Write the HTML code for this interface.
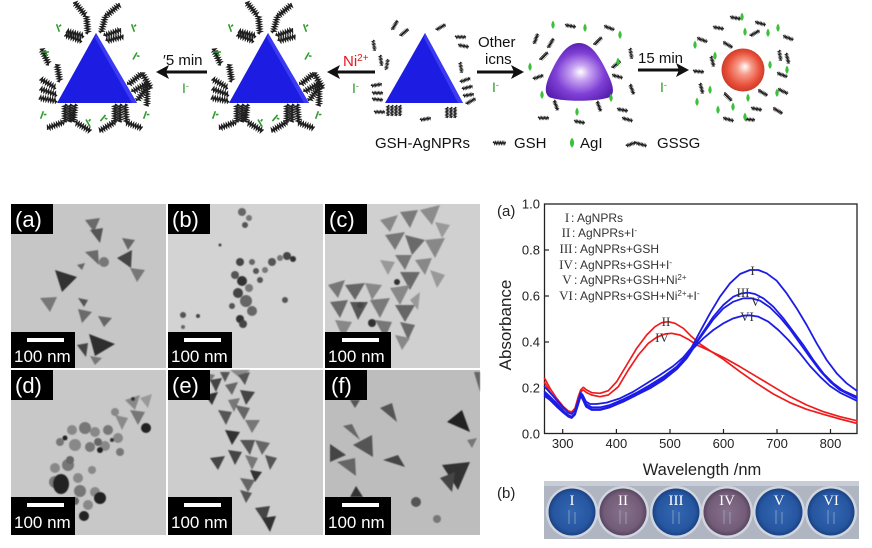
<!DOCTYPE html>
<html><head><meta charset="utf-8"><style>
html,body{margin:0;padding:0;background:#fff;}
svg{display:block;}
text{font-family:"Liberation Sans",Arial,sans-serif;}
.serif{font-family:"Liberation Serif","Times New Roman",serif;}
</style></head><body>
<svg width="872" height="548" viewBox="0 0 872 548" xmlns="http://www.w3.org/2000/svg">
<defs>
  <path id="zz" d="M0,0 l1.2,-1.8 l1.2,3.6 l1.2,-3.6 l1.2,3.6 l1.2,-3.6 l1.2,3.6 l1.2,-3.6 l1.2,3.6 l1.2,-3.6 l1.2,3.6 l1.2,-3.6 l1.2,3.6 l1.2,-3.6 l1.2,3.6 l1.2,-3.6" fill="none" stroke="#1e1e1e" stroke-width="1.5"/>
  <path id="gi" d="M0,-4 L0,4 M1.5,-1 L4,-2" fill="none" stroke="#2f9a2f" stroke-width="1.6"/>
  <path id="dr" d="M0,-4.5 Q3.5,0 0,4 Q-3.5,0 0,-4.5Z" fill="#3cc03c"/>
  <radialGradient id="gp" cx="0.5" cy="0.55" r="0.6" fx="0.52" fy="0.5">
    <stop offset="0" stop-color="#ffffff"/><stop offset="0.22" stop-color="#c9a6f2"/>
    <stop offset="0.6" stop-color="#8040d6"/><stop offset="1" stop-color="#5018a8"/>
  </radialGradient>
  <radialGradient id="gr" cx="0.5" cy="0.5" r="0.55" fx="0.55" fy="0.42">
    <stop offset="0" stop-color="#ffffff"/><stop offset="0.3" stop-color="#f79b8a"/>
    <stop offset="0.7" stop-color="#e8503a"/><stop offset="1" stop-color="#c23422"/>
  </radialGradient>
  <radialGradient id="wb" cx="0.5" cy="0.5" r="0.5">
    <stop offset="0" stop-color="#3466b2"/><stop offset="0.8" stop-color="#2656a0"/><stop offset="1" stop-color="#1a4284"/>
  </radialGradient>
  <radialGradient id="wp" cx="0.5" cy="0.5" r="0.5">
    <stop offset="0" stop-color="#86708c"/><stop offset="0.8" stop-color="#725c78"/><stop offset="1" stop-color="#5a4662"/>
  </radialGradient>
  <filter id="bl"><feGaussianBlur stdDeviation="0.6"/></filter>
  <g id="tri1">
    <polygon points="96,33 57,103 137,103" fill="#1c1ce2"/>
    <polygon points="96,33 137,103 132,103 95,38" fill="#3a3af2"/>
    <g>
      <use href="#zz" transform="translate(88,34) rotate(-95)"/>
      <use href="#zz" transform="translate(84,36) rotate(-165)"/>
      <use href="#zz" transform="translate(82,41) rotate(-160)"/>
      <use href="#zz" transform="translate(101,33) rotate(-75)"/>
      <use href="#zz" transform="translate(104,36) rotate(-20)"/>
      <use href="#zz" transform="translate(106,41) rotate(-15)"/>
      <use href="#zz" transform="translate(86,16) rotate(-130)"/>
      <use href="#zz" transform="translate(106,16) rotate(-40)"/>
      <use href="#zz" transform="translate(60,82) rotate(-100)"/>
      <use href="#zz" transform="translate(56,88) rotate(-150)"/>
      <use href="#zz" transform="translate(57,95) rotate(-160)"/>
      <use href="#zz" transform="translate(57,101) rotate(-170)"/>
      <use href="#zz" transform="translate(49,65) rotate(-115)"/>
      <use href="#zz" transform="translate(128,85) rotate(-40)"/>
      <use href="#zz" transform="translate(132,92) rotate(-30)"/>
      <use href="#zz" transform="translate(137,101) rotate(-55)"/>
      <use href="#zz" transform="translate(142,73) rotate(60)"/>
      <use href="#zz" transform="translate(147,88) rotate(90)"/>
      <use href="#zz" transform="translate(65,104) rotate(90)"/>
      <use href="#zz" transform="translate(70,104) rotate(90)"/>
      <use href="#zz" transform="translate(75,104) rotate(95)"/>
      <use href="#zz" transform="translate(115,104) rotate(90)"/>
      <use href="#zz" transform="translate(120,104) rotate(90)"/>
      <use href="#zz" transform="translate(125,104) rotate(85)"/>
      <use href="#zz" transform="translate(64,122) rotate(160)"/>
      <use href="#zz" transform="translate(75,122) rotate(30)"/>
      <use href="#zz" transform="translate(125,122) rotate(20)"/>
      <use href="#zz" transform="translate(115,122) rotate(150)"/>
    </g>
    <use href="#gi" transform="translate(58,28) rotate(-20)"/>
    <use href="#gi" transform="translate(133,28) rotate(-20)"/>
    <use href="#gi" transform="translate(45,52) rotate(90)"/>
    <use href="#gi" transform="translate(135,56) rotate(30)"/>
    <use href="#gi" transform="translate(42,115) rotate(20)"/>
    <use href="#gi" transform="translate(88,123) rotate(-30)"/>
    <use href="#gi" transform="translate(103,118) rotate(40)"/>
    <use href="#gi" transform="translate(145,115) rotate(20)"/>
  </g>
</defs>

<!-- ===== Scheme ===== -->
<use href="#tri1"/>
<use href="#tri1" transform="translate(172,0)"/>

<!-- triangle 3 -->
<polygon points="425,33 385,103 463,103" fill="#1c1ce2"/>
<polygon points="425,33 463,103 458,103 424,38" fill="#3a3af2"/>
<g>
  <use href="#zz" transform="translate(373,40) rotate(80) scale(0.6)"/>
  <use href="#zz" transform="translate(380,55) rotate(80) scale(0.6)"/>
  <use href="#zz" transform="translate(392,30) rotate(-60) scale(0.6)"/>
  <use href="#zz" transform="translate(400,36) rotate(-40) scale(0.6)"/>
  <use href="#zz" transform="translate(436,30) rotate(-30) scale(0.6)"/>
  <use href="#zz" transform="translate(455,37) rotate(0) scale(0.6)"/>
  <use href="#zz" transform="translate(458,45) rotate(10) scale(0.6)"/>
  <use href="#zz" transform="translate(460,62) rotate(80) scale(0.6)"/>
  <use href="#zz" transform="translate(460,82) rotate(-20) scale(0.6)"/>
  <use href="#zz" transform="translate(462,89) rotate(-15) scale(0.6)"/>
  <use href="#zz" transform="translate(463,96) rotate(-10) scale(0.6)"/>
  <use href="#zz" transform="translate(466,104) rotate(-30) scale(0.6)"/>
  <use href="#zz" transform="translate(388,105) rotate(90) scale(0.6)"/>
  <use href="#zz" transform="translate(392,105) rotate(90) scale(0.6)"/>
  <use href="#zz" transform="translate(396,105) rotate(90) scale(0.6)"/>
  <use href="#zz" transform="translate(400,105) rotate(90) scale(0.6)"/>
  <use href="#zz" transform="translate(447,107) rotate(90) scale(0.6)"/>
  <use href="#zz" transform="translate(451,107) rotate(90) scale(0.6)"/>
  <use href="#zz" transform="translate(455,107) rotate(90) scale(0.6)"/>
  <use href="#zz" transform="translate(371,86) rotate(-10) scale(0.6)"/>
  <use href="#zz" transform="translate(372,93) rotate(0) scale(0.6)"/>
  <use href="#zz" transform="translate(372,99) rotate(5) scale(0.6)"/>
  <use href="#zz" transform="translate(374,112) rotate(0) scale(0.6)"/>
  <use href="#zz" transform="translate(420,120) rotate(-10) scale(0.6)"/>
  <use href="#zz" transform="translate(386,70) rotate(-80) scale(0.6)"/>
</g>

<!-- purple particle -->
<path d="M579,43 C590,43 598,54 605,68 C612,82 616,92 610,97 C598,102 560,102 549,97 C543,92 546,82 553,68 C560,54 568,43 579,43Z" fill="url(#gp)"/>
<g>
  <use href="#zz" transform="translate(534,44) rotate(-70) scale(0.6)"/>
  <use href="#zz" transform="translate(565,25) rotate(10) scale(0.6)"/>
  <use href="#zz" transform="translate(604,26) rotate(20) scale(0.6)"/>
  <use href="#zz" transform="translate(548,48) rotate(-60) scale(0.6)"/>
  <use href="#zz" transform="translate(594,45) rotate(-45) scale(0.6)"/>
  <use href="#zz" transform="translate(630,48) rotate(80) scale(0.6)"/>
  <use href="#zz" transform="translate(612,75) rotate(15) scale(0.6)"/>
  <use href="#zz" transform="translate(630,84) rotate(70) scale(0.6)"/>
  <use href="#zz" transform="translate(617,109) rotate(10) scale(0.6)"/>
  <use href="#zz" transform="translate(622,118) rotate(15) scale(0.6)"/>
  <use href="#zz" transform="translate(538,118) rotate(0) scale(0.6)"/>
  <use href="#zz" transform="translate(533,79) rotate(-20) scale(0.6)"/>
  <use href="#zz" transform="translate(554,100) rotate(70) scale(0.6)"/>
  <use href="#zz" transform="translate(597,101) rotate(70) scale(0.6)"/>
  <use href="#zz" transform="translate(574,121) rotate(10) scale(0.6)"/>
  <use href="#zz" transform="translate(612,68) rotate(-40) scale(0.6)"/>
  <use href="#zz" transform="translate(540,60) rotate(-45) scale(0.6)"/>
</g>
<use href="#dr" transform="translate(553,25)"/><use href="#dr" transform="translate(585,28)"/>
<use href="#dr" transform="translate(620,35)"/><use href="#dr" transform="translate(530,67)"/>
<use href="#dr" transform="translate(542,95)"/><use href="#dr" transform="translate(577,112)"/>
<use href="#dr" transform="translate(611,98)"/><use href="#dr" transform="translate(618,62)"/>

<!-- red sphere -->
<circle cx="743" cy="70" r="21.5" fill="url(#gr)"/>
<g>
  <use href="#zz" transform="translate(697,38) rotate(20) scale(0.6)"/>
  <use href="#zz" transform="translate(713,27) rotate(10) scale(0.6)"/>
  <use href="#zz" transform="translate(730,17) rotate(10) scale(0.6)"/>
  <use href="#zz" transform="translate(755,22) rotate(15) scale(0.6)"/>
  <use href="#zz" transform="translate(750,36) rotate(-30) scale(0.6)"/>
  <use href="#zz" transform="translate(783,36) rotate(20) scale(0.6)"/>
  <use href="#zz" transform="translate(779,50) rotate(80) scale(0.6)"/>
  <use href="#zz" transform="translate(786,53) rotate(75) scale(0.6)"/>
  <use href="#zz" transform="translate(777,73) rotate(20) scale(0.6)"/>
  <use href="#zz" transform="translate(778,89) rotate(25) scale(0.6)"/>
  <use href="#zz" transform="translate(773,108) rotate(30) scale(0.6)"/>
  <use href="#zz" transform="translate(751,108) rotate(10) scale(0.6)"/>
  <use href="#zz" transform="translate(744,119) rotate(5) scale(0.6)"/>
  <use href="#zz" transform="translate(723,118) rotate(15) scale(0.6)"/>
  <use href="#zz" transform="translate(724,93) rotate(45) scale(0.6)"/>
  <use href="#zz" transform="translate(700,83) rotate(75) scale(0.6)"/>
  <use href="#zz" transform="translate(693,71) rotate(5) scale(0.6)"/>
  <use href="#zz" transform="translate(711,56) rotate(75) scale(0.6)"/>
  <use href="#zz" transform="translate(723,42) rotate(30) scale(0.6)"/>
  <use href="#zz" transform="translate(758,90) rotate(30) scale(0.6)"/>
</g>
<use href="#dr" transform="translate(695,45)"/><use href="#dr" transform="translate(715,56)"/>
<use href="#dr" transform="translate(745,32)"/><use href="#dr" transform="translate(742,17)"/>
<use href="#dr" transform="translate(768,33)"/><use href="#dr" transform="translate(778,28)"/>
<use href="#dr" transform="translate(787,70)"/><use href="#dr" transform="translate(770,65)"/>
<use href="#dr" transform="translate(777,93)"/><use href="#dr" transform="translate(748,98)"/>
<use href="#dr" transform="translate(733,107)"/><use href="#dr" transform="translate(710,90)"/>
<use href="#dr" transform="translate(697,102)"/><use href="#dr" transform="translate(718,110)"/>
<use href="#dr" transform="translate(745,117)"/>

<!-- arrows -->
<g stroke="#111" stroke-width="3" fill="#111">
  <line x1="207" y1="72" x2="163" y2="72"/>
  <line x1="375" y1="72" x2="334" y2="72"/>
  <line x1="477" y1="72" x2="517" y2="72"/>
  <line x1="638" y1="70" x2="682" y2="70"/>
</g>
<g fill="#111">
  <polygon points="156,72 169,65 166,72 169,79"/>
  <polygon points="327,72 340,65 337,72 340,79"/>
  <polygon points="524,72 511,65 514,72 511,79"/>
  <polygon points="689,70 676,63 679,70 676,77"/>
</g>
<g font-size="15" fill="#111">
  <text x="163" y="65">′5 min</text>
  <text x="343" y="66" fill="#e8141e">Ni<tspan font-size="10" dy="-5">2+</tspan></text>
  <text x="478" y="47">Other</text>
  <text x="485" y="64">icns</text>
  <text x="638" y="63">15 min</text>
</g>
<g font-size="14" fill="#2f9a2f">
  <text x="182" y="93">I<tspan font-size="9" dy="-4">-</tspan></text>
  <text x="352" y="93">I<tspan font-size="9" dy="-4">-</tspan></text>
  <text x="492" y="92">I<tspan font-size="9" dy="-4">-</tspan></text>
  <text x="660" y="92">I<tspan font-size="9" dy="-4">-</tspan></text>
</g>
<!-- scheme legend -->
<g font-size="15" fill="#111">
  <text x="375" y="148">GSH-AgNPRs</text>
  <use href="#zz" transform="translate(493,143) scale(0.7)"/>
  <text x="514" y="148">GSH</text>
  <use href="#dr" transform="translate(572,143) scale(1.2)"/>
  <text x="580" y="148">AgI</text>
  <use href="#zz" transform="translate(626,146) rotate(-20) scale(0.6)"/>
  <use href="#zz" transform="translate(636,143) rotate(15) scale(0.6)"/>
  <text x="657" y="148">GSSG</text>
</g>

<!-- ===== TEM panels ===== -->
<g>
  <rect x="11" y="204" width="155" height="164" fill="#c6c6c6"/>
  <rect x="168" y="204" width="155" height="164" fill="#d3d3d3"/>
  <rect x="325" y="204" width="155" height="164" fill="#d0d0d0"/>
  <rect x="11" y="370" width="155" height="165" fill="#c8c8c8"/>
  <rect x="168" y="370" width="155" height="165" fill="#cdcdcd"/>
  <rect x="325" y="370" width="155" height="165" fill="#bdbdbd"/>
</g>
<g filter="url(#bl)">
  <!-- a -->
  <polygon points="85,220 100,218 94,232" fill="#6a6a6a"/>
  <polygon points="90,230 103,228 100,243" fill="#555"/>
  <polygon points="122,238 135,240 128,250" fill="#666"/>
  <polygon points="117,258 132,250 131,268" fill="#444"/>
  <polygon points="130,268 145,270 137,282" fill="#777"/>
  <polygon points="85,252 98,250 99,265" fill="#6a6a6a"/>
  <circle cx="104" cy="262" r="5" fill="#777"/>
  <polygon points="77,265 85,263 82,270" fill="#666"/>
  <polygon points="55,270 77,277 62,292" fill="#333"/>
  <polygon points="40,298 57,297 50,312" fill="#777"/>
  <polygon points="78,298 88,300 84,307" fill="#555"/>
  <polygon points="78,309 92,312 82,323" fill="#6a6a6a"/>
  <polygon points="98,316 112,318 104,327" fill="#666"/>
  <polygon points="89,334 115,344 95,356" fill="#2e2e2e"/>
  <polygon points="77,345 88,343 86,357" fill="#444"/>
  <polygon points="90,356 102,358 95,365" fill="#777"/>
  <!-- b -->
  <circle cx="242" cy="212" r="4" fill="#666"/><circle cx="249" cy="218" r="3" fill="#777"/>
  <circle cx="245" cy="225" r="3" fill="#555"/><circle cx="220" cy="245" r="1.5" fill="#444"/>
  <circle cx="235" cy="275" r="4" fill="#555"/><circle cx="242" cy="281" r="5" fill="#333"/>
  <circle cx="249" cy="288" r="4" fill="#777"/><circle cx="238" cy="293" r="5" fill="#444"/>
  <circle cx="246" cy="301" r="6" fill="#666"/><circle cx="232" cy="306" r="3" fill="#555"/>
  <circle cx="252" cy="311" r="5" fill="#666"/><circle cx="240" cy="319" r="4" fill="#333"/>
  <circle cx="256" cy="271" r="3" fill="#555"/><circle cx="272" cy="262" r="4" fill="#555"/>
  <circle cx="280" cy="258" r="3" fill="#777"/><circle cx="287" cy="256" r="4" fill="#444"/>
  <circle cx="293" cy="259" r="3" fill="#333"/><circle cx="265" cy="270" r="3" fill="#777"/>
  <circle cx="260" cy="280" r="3" fill="#555"/><circle cx="285" cy="300" r="3" fill="#555"/>
  <circle cx="183" cy="315" r="3" fill="#555"/><circle cx="198" cy="316" r="2" fill="#444"/>
  <circle cx="183" cy="327" r="2" fill="#666"/><circle cx="243" cy="324" r="4" fill="#444"/>
  <circle cx="240" cy="262" r="4" fill="#444"/><circle cx="252" cy="262" r="3" fill="#666"/>
  <!-- c -->
  <polygon points="380,220 398,215 390,232" fill="#888"/>
  <polygon points="400,212 418,210 410,228" fill="#7a7a7a"/>
  <polygon points="420,210 440,205 432,225" fill="#8c8c8c"/>
  <polygon points="435,222 450,225 442,238" fill="#999"/>
  <polygon points="385,235 405,232 395,250" fill="#777"/>
  <polygon points="405,235 425,240 412,255" fill="#6a6a6a"/>
  <polygon points="425,240 445,238 435,258" fill="#888"/>
  <polygon points="395,255 412,255 405,270" fill="#777"/>
  <polygon points="415,260 432,258 425,275" fill="#888"/>
  <polygon points="380,260 395,262 388,275" fill="#999"/>
  <polygon points="400,272 420,272 410,290" fill="#6a6a6a"/>
  <polygon points="430,270 445,275 437,288" fill="#999"/>
  <polygon points="328,285 345,280 338,298" fill="#777"/>
  <polygon points="345,285 365,283 355,300" fill="#666"/>
  <polygon points="365,283 382,285 372,300" fill="#888"/>
  <polygon points="330,302 348,300 340,318" fill="#6a6a6a"/>
  <polygon points="350,302 368,302 358,320" fill="#555"/>
  <polygon points="370,300 390,298 380,318" fill="#7a7a7a"/>
  <polygon points="390,288 410,285 400,305" fill="#888"/>
  <polygon points="395,305 415,305 405,322" fill="#666"/>
  <polygon points="335,320 352,322 343,338" fill="#888"/>
  <polygon points="375,320 392,322 385,338" fill="#777"/>
  <polygon points="400,322 415,325 408,340" fill="#6a6a6a"/>
  <polygon points="410,300 420,292 418,310" fill="#999"/>
  <polygon points="395,335 410,338 402,350" fill="#888"/>
  <circle cx="372" cy="323" r="4" fill="#333"/><circle cx="397" cy="282" r="3" fill="#333"/>
  <circle cx="360" cy="305" r="3" fill="#444"/>
  <!-- d -->
  <polygon points="125,400 140,395 135,410" fill="#888"/>
  <polygon points="140,398 152,394 148,408" fill="#999"/>
  <polygon points="130,410 145,412 138,425" fill="#777"/>
  <circle cx="146" cy="428" r="5" fill="#222"/>
  <circle cx="115" cy="412" r="4" fill="#888"/>
  <polygon points="115,415 128,418 122,430" fill="#8a8a8a"/>
  <circle cx="133" cy="399" r="2" fill="#333"/>
  <circle cx="72" cy="430" r="5" fill="#888"/><circle cx="85" cy="428" r="6" fill="#777"/>
  <circle cx="95" cy="432" r="5" fill="#888"/><circle cx="108" cy="430" r="5" fill="#777"/>
  <circle cx="118" cy="438" r="5" fill="#888"/><circle cx="60" cy="442" r="4" fill="#777"/>
  <circle cx="75" cy="445" r="6" fill="#888"/><circle cx="90" cy="447" r="5" fill="#777"/>
  <circle cx="105" cy="446" r="5" fill="#888"/><circle cx="120" cy="452" r="4" fill="#777"/>
  <circle cx="98" cy="442" r="4" fill="#666"/>
  <circle cx="65" cy="438" r="2.5" fill="#222"/><circle cx="100" cy="450" r="3" fill="#222"/>
  <circle cx="112" cy="440" r="2" fill="#333"/>
  <circle cx="55" cy="468" r="5" fill="#888"/><circle cx="68" cy="465" r="6" fill="#777"/>
  <circle cx="55" cy="482" r="6" fill="#777"/><ellipse cx="61" cy="484" rx="8" ry="10" fill="#222"/>
  <circle cx="78" cy="478" r="5" fill="#888"/>
  <circle cx="80" cy="491" r="6" fill="#777"/><circle cx="95" cy="492" r="5" fill="#888"/>
  <circle cx="75" cy="501" r="4" fill="#666"/><circle cx="88" cy="505" r="5" fill="#888"/>
  <circle cx="100" cy="498" r="6" fill="#222"/><circle cx="84" cy="516" r="5" fill="#222"/>
  <circle cx="70" cy="460" r="4" fill="#666"/><circle cx="92" cy="470" r="4" fill="#888"/>
  <!-- e -->
  <polygon points="200,372 215,375 208,385" fill="#777"/>
  <polygon points="220,372 230,372 225,382" fill="#555"/>
  <polygon points="230,370 250,370 240,378" fill="#888"/>
  <polygon points="210,380 222,378 216,392" fill="#444"/>
  <polygon points="225,385 238,382 232,395" fill="#666"/>
  <polygon points="205,395 218,392 212,405" fill="#333"/>
  <polygon points="228,400 240,398 234,412" fill="#777"/>
  <polygon points="238,375 250,372 245,385" fill="#555"/>
  <polygon points="240,390 255,392 246,405" fill="#444"/>
  <polygon points="235,405 250,408 244,420" fill="#666"/>
  <polygon points="218,410 232,412 226,425" fill="#555"/>
  <polygon points="245,420 260,420 252,433" fill="#777"/>
  <polygon points="225,430 240,432 232,445" fill="#333"/>
  <polygon points="240,440 255,440 250,455" fill="#555"/>
  <polygon points="255,440 270,443 262,455" fill="#666"/>
  <polygon points="228,450 242,452 235,465" fill="#444"/>
  <polygon points="245,455 258,458 252,470" fill="#777"/>
  <polygon points="265,455 277,458 270,470" fill="#555"/>
  <polygon points="210,458 225,456 218,470" fill="#444"/>
  <polygon points="250,470 262,472 255,482" fill="#333"/>
  <polygon points="240,478 255,480 248,492" fill="#666"/>
  <polygon points="240,490 252,493 246,503" fill="#555"/>
  <polygon points="255,508 270,506 265,523" fill="#444"/>
  <polygon points="262,518 276,516 270,532" fill="#333"/>
  <!-- f -->
  <polygon points="350,400 360,400 355,408" fill="#555"/>
  <polygon points="380,408 392,403 397,422" fill="#555"/>
  <polygon points="447,422 462,410 470,432" fill="#222"/>
  <polygon points="343,426 352,424 360,440" fill="#666"/>
  <polygon points="353,445 372,435 373,457" fill="#555"/>
  <polygon points="330,444 346,455 330,462" fill="#444"/>
  <polygon points="337,462 355,458 356,476" fill="#666"/>
  <polygon points="383,460 398,455 405,467" fill="#444"/>
  <polygon points="467,440 477,438 472,448" fill="#777"/>
  <polygon points="442,465 470,462 458,490" fill="#333"/>
  <polygon points="440,478 455,472 452,492" fill="#444"/>
  <polygon points="350,497 356,486 363,497" fill="#333"/>
  <circle cx="416" cy="502" r="5" fill="#555"/>
  <circle cx="437" cy="519" r="4" fill="#777"/>
  <polygon points="474,372 480,372 480,392" fill="#666"/>
</g>
<!-- panel labels -->
<g fill="#000">
  <rect x="11" y="204" width="42" height="30"/><rect x="168" y="204" width="42" height="30"/>
  <rect x="325" y="204" width="42" height="30"/><rect x="11" y="370" width="42" height="30"/>
  <rect x="168" y="370" width="42" height="30"/><rect x="325" y="370" width="42" height="30"/>
  <rect x="11" y="332" width="64" height="36"/><rect x="168" y="332" width="64" height="36"/>
  <rect x="325" y="332" width="66" height="36"/><rect x="11" y="497" width="64" height="38"/>
  <rect x="168" y="497" width="64" height="38"/><rect x="325" y="497" width="66" height="38"/>
</g>
<g fill="#fff">
  <rect x="27" y="338" width="37" height="4"/><rect x="184" y="338" width="37" height="4"/>
  <rect x="342" y="338" width="37" height="4"/><rect x="27" y="503" width="37" height="4"/>
  <rect x="184" y="503" width="37" height="4"/><rect x="342" y="503" width="37" height="4"/>
</g>
<g fill="#fff" font-size="22">
  <text x="15" y="227">(a)</text><text x="172" y="227">(b)</text><text x="329" y="227">(c)</text>
  <text x="15" y="393">(d)</text><text x="172" y="393">(e)</text><text x="331" y="393">(f)</text>
</g>
<g fill="#fff" font-size="17">
  <text x="14" y="362">100 nm</text><text x="171" y="362">100 nm</text><text x="328" y="362">100 nm</text>
  <text x="14" y="528">100 nm</text><text x="171" y="528">100 nm</text><text x="328" y="528">100 nm</text>
</g>

<!-- ===== Spectra plot ===== -->
<rect x="544.5" y="204" width="312.5" height="229.5" fill="none" stroke="#222" stroke-width="1.3"/>
<g stroke="#222" stroke-width="1.2">
  <line x1="562.7" y1="433.5" x2="562.7" y2="429"/><line x1="616.4" y1="433.5" x2="616.4" y2="429"/>
  <line x1="670" y1="433.5" x2="670" y2="429"/><line x1="723.5" y1="433.5" x2="723.5" y2="429"/>
  <line x1="777" y1="433.5" x2="777" y2="429"/><line x1="830.5" y1="433.5" x2="830.5" y2="429"/>
  <line x1="544.5" y1="388" x2="549" y2="388"/><line x1="544.5" y1="342" x2="549" y2="342"/>
  <line x1="544.5" y1="296" x2="549" y2="296"/><line x1="544.5" y1="250" x2="549" y2="250"/>
</g>
<g font-size="13" fill="#222" text-anchor="end">
  <text x="540" y="438.5">0.0</text><text x="540" y="392.5">0.2</text><text x="540" y="346.5">0.4</text>
  <text x="540" y="300.5">0.6</text><text x="540" y="254.5">0.8</text><text x="540" y="208.5">1.0</text>
</g>
<g font-size="13" fill="#222" text-anchor="middle">
  <text x="562.7" y="448">300</text><text x="616.4" y="448">400</text><text x="670" y="448">500</text>
  <text x="723.5" y="448">600</text><text x="777" y="448">700</text><text x="830.5" y="448">800</text>
</g>
<text x="702" y="475" font-size="16.5" fill="#222" text-anchor="middle">Wavelength /nm</text>
<text transform="translate(511,325) rotate(-90)" font-size="17" fill="#222" text-anchor="middle">Absorbance</text>
<text x="497" y="216" font-size="15" fill="#222">(a)</text>

<!-- legend -->
<g font-size="12" fill="#333">
  <text x="567" y="222" class="serif" text-anchor="middle" font-size="13">I</text><text x="571" y="222">: AgNPRs</text>
  <text x="566" y="237" class="serif" text-anchor="middle" font-size="13">II</text><text x="572" y="237">: AgNPRs+I<tspan font-size="8" dy="-4">-</tspan></text>
  <text x="566" y="253" class="serif" text-anchor="middle" font-size="13">III</text><text x="574" y="253">: AgNPRs+GSH</text>
  <text x="566" y="269" class="serif" text-anchor="middle" font-size="13">IV</text><text x="574" y="269">: AgNPRs+GSH+I<tspan font-size="8" dy="-4">-</tspan></text>
  <text x="567" y="284" class="serif" text-anchor="middle" font-size="13">V</text><text x="574" y="284">: AgNPRs+GSH+Ni<tspan font-size="8" dy="-4">2+</tspan></text>
  <text x="566" y="300" class="serif" text-anchor="middle" font-size="13">VI</text><text x="574" y="300">: AgNPRs+GSH+Ni<tspan font-size="8" dy="-4">2+</tspan><tspan dy="4">+I</tspan><tspan font-size="8" dy="-4">-</tspan></text>
</g>

<!-- curves -->
<g transform="translate(540,260) scale(0.333333)" fill="none" stroke-linejoin="round" stroke-linecap="round">
  <g stroke="#ee1c1c">
    <polyline vector-effect="non-scaling-stroke" stroke-width="1.7" points="14,355 30,385 50,415 70,440 85,453 95,456 105,445 115,410 122,390 130,382 140,390 155,398 180,400 205,392 230,365 260,315 290,265 320,225 345,200 365,188 385,185 405,190 430,205 455,230 480,252 510,272 550,298 600,335 650,370 700,402 750,428 800,448 850,463 900,477 950,490"/>
    <polyline vector-effect="non-scaling-stroke" stroke-width="1.7" points="14,368 30,395 50,422 70,445 85,456 95,458 105,448 115,415 122,395 130,390 140,398 155,405 180,410 205,405 235,380 265,330 295,285 325,250 350,232 375,222 395,220 420,225 445,238 470,255 500,268 550,292 600,320 650,350 700,380 750,410 800,435 850,455 900,470 950,482"/>
  </g>
  <g stroke="#1c1ce6">
    <polyline vector-effect="non-scaling-stroke" stroke-width="1.8" points="14,380 30,398 50,420 70,442 85,458 95,462 105,452 115,420 122,398 128,405 138,425 150,432 170,432 200,428 240,415 280,395 320,370 360,345 400,318 430,292 455,262 480,215 510,160 540,110 570,70 600,42 630,30 655,30 680,40 710,62 740,100 770,145 800,195 830,250 860,300 890,340 920,370 950,392"/>
    <polyline vector-effect="non-scaling-stroke" stroke-width="1.8" points="14,395 30,410 50,430 70,452 85,465 95,470 105,460 115,425 122,400 128,410 138,432 155,442 180,442 210,435 250,418 290,398 330,375 370,350 410,320 440,288 460,260 490,215 520,170 550,135 580,110 605,100 625,98 645,102 670,115 700,140 730,175 760,215 790,255 820,300 850,340 880,370 910,392 950,410"/>
    <polyline vector-effect="non-scaling-stroke" stroke-width="1.8" points="14,402 30,415 50,435 70,455 85,468 95,472 105,462 115,430 122,405 128,415 138,438 155,448 180,448 210,440 250,422 290,402 330,380 370,355 410,325 440,290 460,262 490,220 520,178 550,145 580,125 610,115 635,115 660,122 690,142 720,172 750,208 780,250 810,292 840,332 870,365 900,390 950,415"/>
    <polyline vector-effect="non-scaling-stroke" stroke-width="1.8" points="14,408 30,420 50,440 70,458 85,470 95,474 105,464 115,432 122,408 128,418 138,440 155,450 180,450 210,442 250,425 290,405 330,385 370,360 410,328 440,295 460,265 490,235 520,210 550,190 580,175 610,167 630,166 655,170 685,185 715,210 745,240 780,280 810,318 840,350 870,378 900,398 950,422"/>
  </g>
</g>
<!-- curve labels -->
<g class="serif" font-size="13" fill="#333" text-anchor="middle">
  <text x="752.5" y="275" class="serif">I</text>
  <text x="743" y="297" class="serif">III</text>
  <text x="755.5" y="306" class="serif">V</text>
  <text x="747" y="321" class="serif">VI</text>
  <text x="666" y="326" class="serif">II</text>
  <text x="662" y="342" class="serif">IV</text>
</g>

<!-- ===== Photo (b) ===== -->
<text x="497" y="498" font-size="15" fill="#222">(b)</text>
<rect x="544" y="481" width="315" height="58" fill="#b0b5c2"/>
<rect x="544" y="481" width="315" height="5" fill="#c8ccd6"/>
<g fill="#d0d5de">
  <circle cx="572" cy="512" r="26"/><circle cx="623" cy="512" r="26"/><circle cx="676" cy="512" r="26"/>
  <circle cx="727" cy="512" r="26"/><circle cx="779" cy="512" r="26"/><circle cx="831" cy="512" r="26"/>
</g>
<circle cx="572" cy="512" r="23.5" fill="url(#wb)"/>
<circle cx="623" cy="512" r="23.5" fill="url(#wp)"/>
<circle cx="676" cy="512" r="23.5" fill="url(#wb)"/>
<circle cx="727" cy="512" r="23.5" fill="url(#wp)"/>
<circle cx="779" cy="512" r="23.5" fill="url(#wb)"/>
<circle cx="831" cy="512" r="23.5" fill="url(#wb)"/>
<g fill="#fff" class="serif" font-size="15" text-anchor="middle">
  <text x="572" y="505" class="serif">I</text><text x="623" y="505" class="serif">II</text>
  <text x="676" y="505" class="serif">III</text><text x="727" y="505" class="serif">IV</text>
  <text x="779" y="505" class="serif">V</text><text x="831" y="505" class="serif">VI</text>
</g>
<g stroke="#9fb0cc" stroke-width="1.2" opacity="0.6">
  <line x1="569" y1="510" x2="569" y2="524"/><line x1="575" y1="512" x2="575" y2="524"/>
  <line x1="620" y1="510" x2="620" y2="524"/><line x1="626" y1="512" x2="626" y2="524"/>
  <line x1="673" y1="510" x2="673" y2="524"/><line x1="679" y1="512" x2="679" y2="524"/>
  <line x1="724" y1="510" x2="724" y2="524"/><line x1="730" y1="512" x2="730" y2="524"/>
  <line x1="776" y1="510" x2="776" y2="524"/><line x1="782" y1="512" x2="782" y2="524"/>
  <line x1="828" y1="510" x2="828" y2="524"/><line x1="834" y1="512" x2="834" y2="524"/>
</g>
</svg>
</body></html>
